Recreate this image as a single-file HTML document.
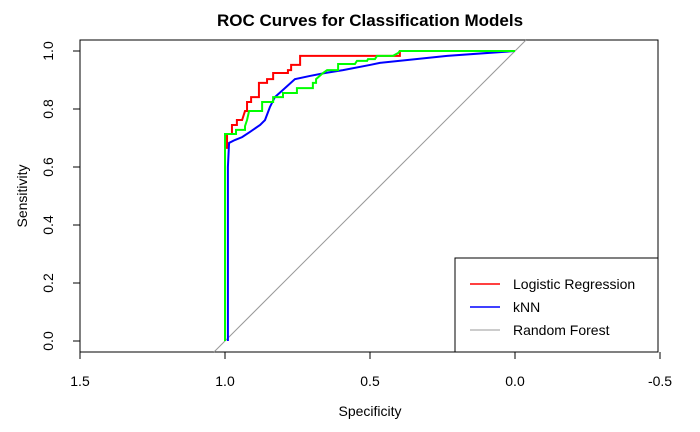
<!DOCTYPE html>
<html><head><meta charset="utf-8"><style>
body{margin:0;background:#fff;}
svg{display:block;font-family:"Liberation Sans",Arial,sans-serif;}
</style></head><body>
<svg id="chart" width="700" height="432">
<text x="370" y="26" text-anchor="middle" font-weight="bold" font-size="17">ROC Curves for Classification Models</text>
<rect x="80" y="40" width="578" height="312" fill="none" stroke="#000"/>
<g id="axes"></g>
<line id="diag" stroke="#999" stroke-width="1"/>
<g id="series"></g>
<text x="370" y="416" text-anchor="middle" font-size="14">Specificity</text>
<text transform="translate(27,196) rotate(-90)" text-anchor="middle" font-size="14">Sensitivity</text>
<g>
<rect x="455" y="258" width="203" height="94" fill="#fff" stroke="#000"/>
<line x1="470" x2="500" y1="284" y2="284" stroke="#f00" stroke-width="1.5"/>
<text x="513" y="289" font-size="14">Logistic Regression</text>
<line x1="470" x2="500" y1="307" y2="307" stroke="#00f" stroke-width="1.5"/>
<text x="513" y="312" font-size="14">kNN</text>
<line x1="470" x2="500" y1="330" y2="330" stroke="#999" stroke-width="1"/>
<text x="513" y="335" font-size="14">Random Forest</text>
</g>
</svg>
<script>
const xTicks=[1.5,1.0,0.5,0.0,-0.5];
const xTickLabels=["1.5","1.0","0.5","0.0","-0.5"];
const yTicks=[0,0.2,0.4,0.6,0.8,1.0];
const yTickLabels=["0.0","0.2","0.4","0.6","0.8","1.0"];
const lrSpec=[1,1,0.993,0.993,0.976,0.976,0.959,0.959,0.941,0.931,0.924,0.924,0.91,0.91,0.883,0.883,0.855,0.855,0.834,0.834,0.783,0.783,0.772,0.772,0.741,0.741,0.397,0.397,0];
const lrSens=[0,0.666,0.666,0.714,0.714,0.745,0.745,0.762,0.762,0.793,0.793,0.824,0.824,0.841,0.841,0.89,0.89,0.903,0.903,0.924,0.924,0.934,0.934,0.952,0.952,0.983,0.983,1,1];
const knnSpec=[0.99,0.99,0.986,0.966,0.941,0.914,0.879,0.862,0.845,0.828,0.8,0.759,0.707,0.655,0.593,0.5,0.466,0.234,0];
const knnSens=[0,0.6,0.683,0.693,0.703,0.721,0.745,0.762,0.807,0.841,0.866,0.903,0.914,0.924,0.934,0.952,0.959,0.983,1];
const rfSpec=[1,1,0.962,0.962,0.931,0.931,0.924,0.917,0.872,0.872,0.834,0.834,0.8,0.8,0.752,0.752,0.697,0.697,0.686,0.686,0.662,0.648,0.61,0.61,0.552,0.545,0.51,0.507,0.483,0.476,0.421,0.403,0.397,0];
const rfSens=[0,0.714,0.714,0.728,0.728,0.741,0.762,0.793,0.793,0.824,0.824,0.841,0.841,0.855,0.855,0.872,0.872,0.89,0.89,0.903,0.924,0.934,0.934,0.955,0.955,0.966,0.966,0.972,0.972,0.983,0.983,0.993,1,1];
const NS="http://www.w3.org/2000/svg";
function xs(v){return 515-v*290;}
function ys(v){return 341-v*290;}
const axes=document.getElementById('axes');
function mk(t,a){const e=document.createElementNS(NS,t);for(const k in a)e.setAttribute(k,a[k]);return e;}
xTicks.forEach((t,i)=>{
 const l=mk('line',{x1:xs(t),x2:xs(t),y1:352,y2:359,stroke:'#000'});
 
 
 axes.appendChild(l);
 const tx=mk('text',{x:xs(t),y:386,'text-anchor':'middle','font-size':14});
 
 
 tx.textContent=xTickLabels[i];axes.appendChild(tx);
});
yTicks.forEach((t,i)=>{
 const l=mk('line',{x1:73,x2:80,y1:ys(t),y2:ys(t),stroke:'#000'});
 
 
 axes.appendChild(l);
 const tx=mk('text',{transform:`translate(53,${ys(t)}) rotate(-90)`,'text-anchor':'middle','font-size':14});
 
 
 tx.textContent=yTickLabels[i];axes.appendChild(tx);
});
const d=document.getElementById('diag');
const lo=-0.038,hi=1.038;
d.setAttribute('x1',xs(1-lo));d.setAttribute('y1',ys(lo));
d.setAttribute('x2',xs(1-hi));d.setAttribute('y2',ys(hi));
const g=document.getElementById('series');
function path(sp,se,col,name){
 const p=mk('polyline',{points:sp.map((s,i)=>xs(s)+','+ys(se[i])).join(' '),fill:'none',stroke:col,'stroke-width':2});
 
 
 g.appendChild(p);
}
path(lrSpec,lrSens,'#f00','logistic-regression-curve');
path(knnSpec,knnSens,'#00f','knn-curve');
path(rfSpec,rfSens,'#0f0','green-curve');
</script>
</body></html>
